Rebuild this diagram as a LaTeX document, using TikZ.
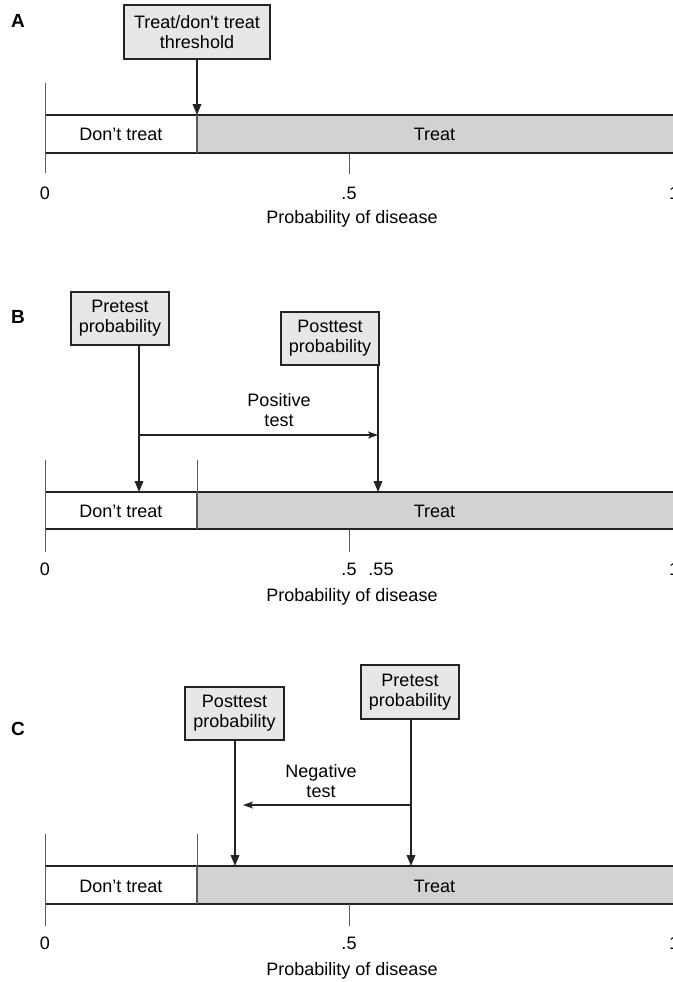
\documentclass[tikz,border=0pt]{standalone}
\usepackage{fontspec}
\setmainfont{Liberation Sans}
\usetikzlibrary{arrows.meta}
\definecolor{boxfill}{RGB}{230,231,232}
\definecolor{barfill}{RGB}{209,210,212}
\definecolor{linec}{RGB}{35,35,35}
\definecolor{axisc}{RGB}{90,90,90}
\begin{document}
\begin{tikzpicture}[x=1pt,y=-1pt,
  every node/.style={font=\fontsize{18}{20}\selectfont, inner sep=0pt},
  txt/.style={anchor=base},
  panel/.style={anchor=base, font=\fontsize{19}{20}\selectfont\bfseries},
  labelbox/.style={draw=linec, line width=1.1pt, fill=boxfill, align=center},
  twoline/.style={align=center},
  mainarrow/.style={-{Triangle[length=11pt,width=8.5pt]}, line width=1.8pt, draw=linec},
  testarrow/.style={-{Stealth[length=10pt,width=7pt,inset=2.5pt]}, line width=1.1pt, draw=linec},
  barline/.style={line width=1.3pt, draw=linec},
  axisline/.style={line width=1pt, draw=axisc},
  divline/.style={line width=1.3pt, draw=axisc}]
\useasboundingbox (0,0) rectangle (672,982);

% ---------------- Panel A ----------------
\node[panel] (labA) at (18,28) {A};
\node[labelbox, minimum width=146pt, minimum height=54pt] (thr) at (197,32) {Treat/don\textquotesingle t treat\\threshold};
\fill[barfill] (197,115) rectangle (690,153);
\draw[barline] (45,115) -- (690,115) (45,153) -- (690,153);
\draw[axisline] (45,83) -- (45,173);
\draw[divline] (197,115) -- (197,153);
\draw[axisline] (349,153) -- (349,174);
\node[txt] (dtA) at (121,140) {Don't treat};
\node[txt] (trA) at (434.5,140) {Treat};
\coordinate (tA) at (197,115);
\draw[mainarrow] (thr.south) -- (tA);
\node[txt] (zA) at (45,199) {0};
\node[txt] (hA) at (349,199) {.5};
\node[txt] (oA) at (674,199) {1};
\node[txt] (pA) at (352,223) {Probability of disease};

% ---------------- Panel B ----------------
\node[panel] (labB) at (18,323) {B};
\node[labelbox, minimum width=98pt, minimum height=53pt] (preB) at (120,318.5) {Pretest\\probability};
\node[labelbox, minimum width=98pt, minimum height=53pt] (postB) at (330,338.5) {Posttest\\probability};
\fill[barfill] (197,492) rectangle (690,529);
\draw[barline] (45,492) -- (690,492) (45,529) -- (690,529);
\draw[axisline] (45,460) -- (45,552);
\draw[axisline] (197,460) -- (197,492);
\draw[divline] (197,492) -- (197,529);
\draw[axisline] (349,529) -- (349,552);
\node[txt] (dtB) at (121,517) {Don't treat};
\node[txt] (trB) at (434.5,517) {Treat};
\coordinate (tB1) at (139,492);
\coordinate (tB2) at (378,492);
\coordinate (hB1) at (139,435);
\coordinate (hB2) at (378,435);
\draw[mainarrow] (preB.south -| tB1) -- (tB1);
\draw[mainarrow] (postB.south -| tB2) -- (tB2);
\draw[testarrow] (hB1) -- (hB2);
\node[twoline] (posB) at (279,410.5) {Positive\\test};
\node[txt] (zB) at (45,575) {0};
\node[txt] (hB) at (349,575) {.5};
\node[txt] (h2B) at (381,575) {.55};
\node[txt] (oB) at (674,575) {1};
\node[txt] (pB) at (352,601) {Probability of disease};

% ---------------- Panel C ----------------
\node[panel] (labC) at (18,735) {C};
\node[labelbox, minimum width=99pt, minimum height=53pt] (postC) at (234.5,713.5) {Posttest\\probability};
\node[labelbox, minimum width=98pt, minimum height=54pt] (preC) at (410,692) {Pretest\\probability};
\fill[barfill] (197,866) rectangle (690,904);
\draw[barline] (45,866) -- (690,866) (45,904) -- (690,904);
\draw[axisline] (45,834) -- (45,926);
\draw[axisline] (197,834) -- (197,866);
\draw[divline] (197,866) -- (197,904);
\draw[axisline] (349,904) -- (349,926);
\node[txt] (dtC) at (121,892.5) {Don't treat};
\node[txt] (trC) at (434.5,892.5) {Treat};
\coordinate (tC1) at (235,866);
\coordinate (tC2) at (411,866);
\coordinate (hC1) at (411,805);
\coordinate (hC2) at (243,805);
\draw[mainarrow] (postC.south -| tC1) -- (tC1);
\draw[mainarrow] (preC.south -| tC2) -- (tC2);
\draw[testarrow] (hC1) -- (hC2);
\node[twoline] (negC) at (321,781.5) {Negative\\test};
\node[txt] (zC) at (45,949) {0};
\node[txt] (hC) at (349,949) {.5};
\node[txt] (oC) at (674,949) {1};
\node[txt] (pC) at (352,975) {Probability of disease};
\end{tikzpicture}
\end{document}
